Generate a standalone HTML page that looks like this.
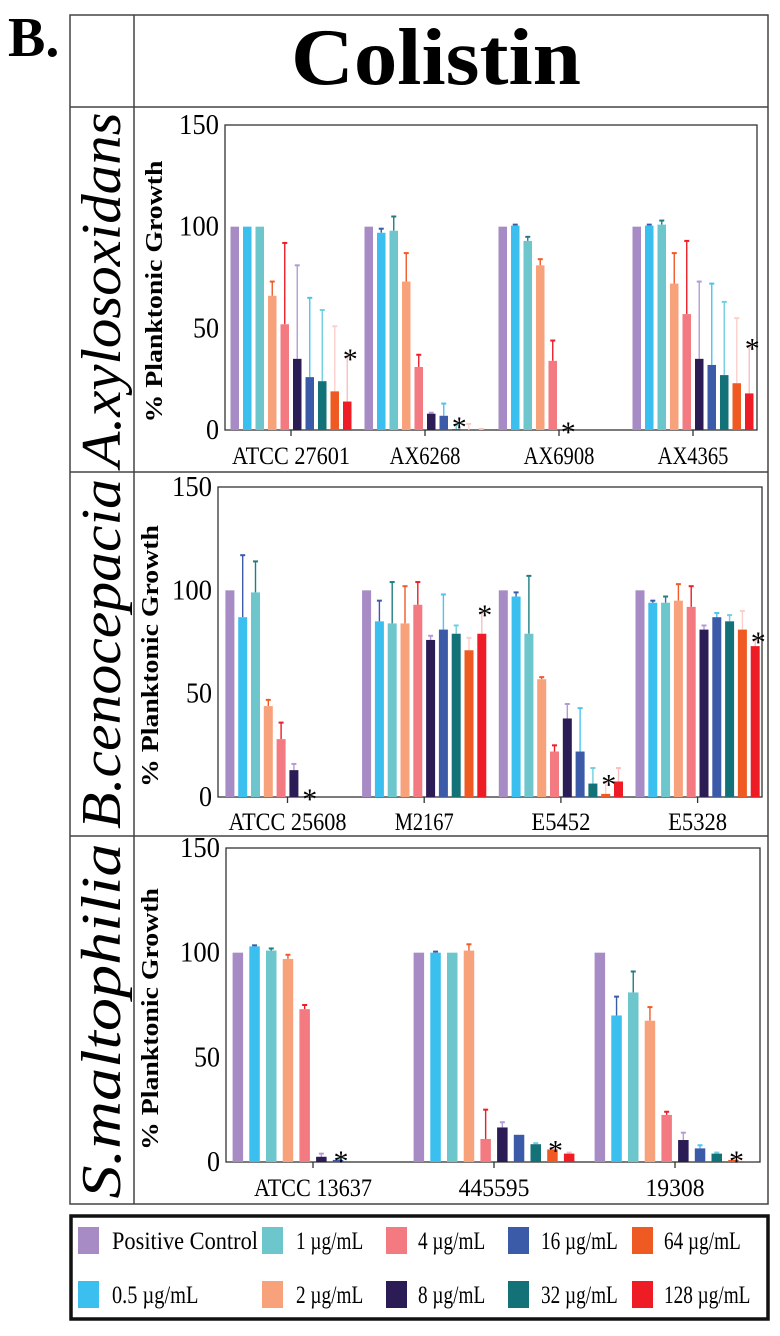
<!DOCTYPE html>
<html><head><meta charset="utf-8"><style>
html,body{margin:0;padding:0;background:#fff;}
svg{display:block;}
text{font-family:"Liberation Serif",serif;}
</style></head><body>
<svg id="fig" width="780" height="1336" viewBox="0 0 780 1336" xmlns="http://www.w3.org/2000/svg">
<g stroke="#444" stroke-width="1.5" fill="none">
<rect x="70" y="15" width="698" height="1189"/>
<line x1="134" y1="15" x2="134" y2="1204"/>
<line x1="70" y1="107" x2="768" y2="107"/>
<line x1="70" y1="472" x2="768" y2="472"/>
<line x1="70" y1="836" x2="768" y2="836"/>
</g>
<rect x="0" y="0" width="68" height="64" fill="#fff"/>
<text x="8" y="56" font-size="56" font-weight="bold">B.</text>
<text x="436" y="84" font-size="80" font-weight="bold" text-anchor="middle" textLength="290" lengthAdjust="spacingAndGlyphs">Colistin</text>
<text transform="translate(120,290) rotate(-90)" font-size="56" font-style="italic" text-anchor="middle" textLength="355" lengthAdjust="spacingAndGlyphs">A.xylosoxidans</text>
<text transform="translate(120,654) rotate(-90)" font-size="56" font-style="italic" text-anchor="middle" textLength="350" lengthAdjust="spacingAndGlyphs">B.cenocepacia</text>
<text transform="translate(120,1021) rotate(-90)" font-size="56" font-style="italic" text-anchor="middle" textLength="355" lengthAdjust="spacingAndGlyphs">S.maltophilia</text>
<g id="charts"></g>
<g id="legend">
<rect x="71" y="1216" width="697" height="103" fill="none" stroke="#111" stroke-width="3.5"/>
</g>
</svg>
<script>
// series
const seriesNames = ["Positive Control","0.5 µg/mL","1 µg/mL","2 µg/mL","4 µg/mL","8 µg/mL","16 µg/mL","32 µg/mL","64 µg/mL","128 µg/mL"];
const seriesColors = ["#a68bc4","#3bbfef","#6cc6cc","#f8a27c","#f27a80","#2c1c55","#3b5ba8","#137178","#ef5a22","#ee1c25"];
const errColors = ["#8a6fb0","#3b5ba8","#1f7d84","#f05a28","#ee1c25","#b49bd6","#4cc3f0","#6fd0dc","#fbd0cc","#f8c0c0"];
const yTicks = [0,50,100,150];
// panel 1
const cats1 = ["ATCC 27601","AX6268","AX6908","AX4365"];
const vals1 = [[100,100,100,66,52,35,26,24,19,14],[100,97,98,73,31,8,7,0.5,0,0],[100,100.5,93,81,34,0,0,0,0,0],[100,100.5,101,72,57,35,32,27,23,18]];
const errs1 = [[100,100,100,73,92,81,65,59,51,36],[100,99,105,87,37,8.5,13,2.5,3,0.5],[100,101,95,84,44,0,0,0,0,0],[100,101,103,87,93,73,72,63,55,41]];
const star1 = [9,7,5,9];
// panel 2
const cats2 = ["ATCC 25608","M2167","E5452","E5328"];
const vals2 = [[100,87,99,44,28,13,0,0,0,0],[100,85,84,84,93,76,81,79,71,79],[100,97,79,57,22,38,22,6.5,1.5,7.5],[100,94,94,95,92,81,87,85,81,73]];
const errs2 = [[100,117,114,47,36,16,0,0,0,0],[100,95,104,102,104,78,98,83,77,89],[100,99,107,58,25,45,43,14,7,14],[100,95,97,103,102,83,89,88,90,76]];
const star2 = [6,9,8,9];
// panel 3
const cats3 = ["ATCC 13637","445595","19308"];
const vals3 = [[100,103,101,97,73,2.5,1,0,0,0],[100,100,100,101,11,16.5,13,8.5,6,4],[100,70,81,67.5,22.5,10.5,6.5,4,1,0.3]];
const errs3 = [[100,103.5,102,99,75,4,1.5,0,0,0],[100,100.5,100,104,25,19,13,9,6.5,4.5],[100,79,91,74,24,14,8,4.5,1.5,0.3]];
const star3 = [6,8,8];

const NS="http://www.w3.org/2000/svg";
function mk(tag,attrs,parent){const e=document.createElementNS(NS,tag);for(const k in attrs)e.setAttribute(k,attrs[k]);parent.appendChild(e);return e;}

function drawPanel(id,cfg,cats,vals,errs,stars){
  const root=document.getElementById('charts');
  const g=mk('g',{},root);
  
  
  const {L,R,T,B,pitch,bw,labY,ylabX}=cfg;
  const y=v=>B-(v/150)*(B-T);
  const cx=i=>cfg.cx0+i*cfg.gsp;
  const fr=mk('rect',{x:L,y:T,width:R-L,height:B-T,fill:'none',stroke:'#333','stroke-width':1.3},g);
  
  
  yTicks.forEach(t=>{
    const tl=mk('text',{x:L-6,y:y(t)+9,'font-size':28,'text-anchor':'end',textLength:t==0?13:(t<100?26:40),lengthAdjust:'spacingAndGlyphs'},g);
    tl.textContent=t;
    
    
  });
  const yl=mk('text',{transform:`translate(${ylabX},${(T+B)/2+14}) rotate(-90)`,'font-size':24,'font-weight':'bold','text-anchor':'middle',textLength:262,lengthAdjust:'spacingAndGlyphs'},g);
  yl.textContent='% Planktonic Growth';
  
  
  cats.forEach((c,i)=>{
    const c0=cx(i);
    mk('line',{x1:c0,y1:B,x2:c0,y2:B+6,stroke:'#333','stroke-width':1.3},g);
    const cl=mk('text',{x:c0,y:labY,'font-size':25,'text-anchor':'middle',textLength:c.length*11.8,lengthAdjust:'spacingAndGlyphs'},g);
    cl.textContent=c;
    
    
    vals[i].forEach((v,j)=>{
      const bx=c0+(j-4.5)*pitch;
      const col=seriesColors[j];
      const e=errs[i][j];
      if(e>v+0.3){
        const el=mk('line',{x1:bx,y1:y(v),x2:bx,y2:y(e),stroke:errColors[j],'stroke-width':1.4},g);
        
        
        mk('line',{x1:bx-2.5,y1:y(e),x2:bx+2.5,y2:y(e),stroke:errColors[j],'stroke-width':2},g);
      }
      if(v>0){
        const r=mk('rect',{x:bx-bw/2,y:y(v),width:bw,height:B-y(v),fill:col},g);
        
        
      }
    });
    const si=stars[i];
    const sx=c0+(si-4.5)*pitch+3;
    const top=Math.max(vals[i][si],errs[i][si]);
    const st=mk('text',{x:sx,y:y(top)+12,'font-size':30,'text-anchor':'middle'},g);
    st.textContent='*';
    
    
  });
}
drawPanel('panel-a-xylosoxidans',{L:225,R:757,T:125,B:430,pitch:12.5,bw:8.5,labY:464,ylabX:162,cx0:291,gsp:134},cats1,vals1,errs1,star1);
drawPanel('panel-b-cenocepacia',{L:218,R:762,T:487,B:797,pitch:12.8,bw:9,labY:830,ylabX:158,cx0:287.5,gsp:136.7},cats2,vals2,errs2,star2);
drawPanel('panel-s-maltophilia',{L:226,R:760,T:848,B:1162,pitch:16.7,bw:10.5,labY:1196,ylabX:158,cx0:313,gsp:181},cats3,vals3,errs3,star3);

// legend
const lg=document.getElementById('legend');
const legX=[78,262,386,508,632], legTX=[112,296,418,541,664];
seriesNames.forEach((nm,k)=>{
  const col=Math.floor(k/2), row=k%2;
  const sx=legX[col], cy=row?1294:1240;
  const sw=mk('rect',{x:sx,y:cy-13,width:21,height:27,fill:seriesColors[k]},lg);
  
  
  const t=mk('text',{x:legTX[col],y:cy+9,'font-size':25,textLength:nm.length>12?146:(nm.length*9.6),lengthAdjust:'spacingAndGlyphs'},lg);
  t.textContent=nm;
  
  
});
</script>
</body></html>
